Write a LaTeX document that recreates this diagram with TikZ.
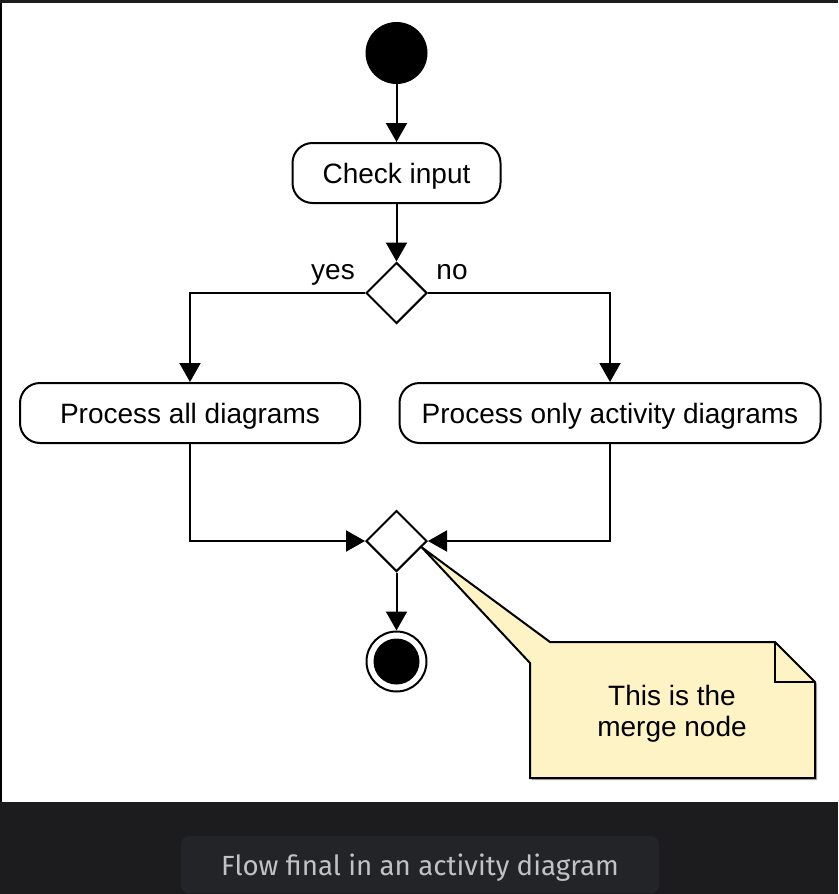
\documentclass[tikz,border=0pt]{standalone}
\usepackage{fontspec}
\setmainfont{Liberation Sans}
\newfontfamily\capfont{Fira Sans}
\usetikzlibrary{shapes.geometric,arrows.meta,calc}
\definecolor{bgdark}{HTML}{1C1C1E}
\definecolor{capbox}{HTML}{232428}
\definecolor{captext}{HTML}{C2C2C4}
\definecolor{notefill}{HTML}{FDF3C4}
\begin{document}
\begin{tikzpicture}[x=1pt,y=-1pt,
  action/.style={draw,line width=2pt,rounded corners=20pt,minimum height=60pt,inner sep=0pt,text height=20pt,text depth=0pt,fill=white,font=\fontsize{28}{32}\selectfont},
  decision/.style={draw,diamond,line width=2pt,minimum width=61pt,minimum height=61pt,inner sep=0pt,fill=white},
  flow/.style={line width=2pt,-{Triangle[length=19pt,width=21pt]}},
  lbl/.style={font=\fontsize{28}{32}\selectfont,inner sep=0pt,anchor=base},
  notestyle/.style={draw,line width=2pt,fill=notefill}]
\useasboundingbox (0,0) rectangle (838,894);
\fill[bgdark] (0,0) rectangle (838,894);
\fill[white] (2,3) rectangle (838,802);
\fill[black] (0,3) rectangle (2,802);

% nodes
\node[circle,fill=black,minimum size=62pt,inner sep=0pt] (start) at (396.5,53) {};
\node[action,minimum width=208pt] (check) at (396.5,173) {Check input};
\node[decision] (dec) at (396.5,293) {};
\node[action,minimum width=340pt] (pall) at (190,413) {Process all diagrams};
\node[action,minimum width=421pt] (ponly) at (610,413) {Process only activity diagrams};
\node[decision] (merge) at (396.5,541) {};
\node[circle,draw,line width=2pt,fill=white,minimum size=60pt,inner sep=0pt] (end) at (396.5,661.5) {};
\node[circle,fill=black,minimum size=46pt,inner sep=0pt] (endin) at (end.center) {};

\node[lbl] (yes) at (333,279) {yes};
\node[lbl] (no) at (452,279) {no};

% connectors
\draw[flow] (start) -- (check);
\draw[flow] (check) -- (dec);
\draw[flow] (dec.west) -| (pall.north);
\draw[flow] (dec.east) -| (ponly.north);
\draw[flow] (pall.south) |- (merge.west);
\draw[flow] (ponly.south) |- (merge.east);
\draw[flow] (merge.south) -- (end.north);

% note callout
\coordinate (tip) at ($(merge.east)!0.2!(merge.south)$);
\fill[black!30] ($(530,663)+(2,2)$) -- ($(tip)+(2,2)$) -- (552,644) -- (777,644) -- (817,684) -- (817,780) -- (532,780) -- cycle;
\draw[notestyle] (530,663) -- (tip) -- (550,642) -- (775,642) -- (815,682) -- (815,778) -- (530,778) -- cycle;
\draw[line width=2pt] (775,642) -- (775,682) -- (815,682);
\node[font=\fontsize{28}{31}\selectfont,align=center,inner sep=0pt] (notetext) at (672,714) {This is the\\merge node};

% caption
\node[fill=capbox,rounded corners=8pt,minimum width=478pt,minimum height=57pt,inner sep=0pt,text=captext,text height=21pt,text depth=0pt,font=\capfont\fontsize{27.7}{32}\selectfont] (cap) at (420,864.5) {Flow final in an activity diagram};
\end{tikzpicture}
\end{document}
